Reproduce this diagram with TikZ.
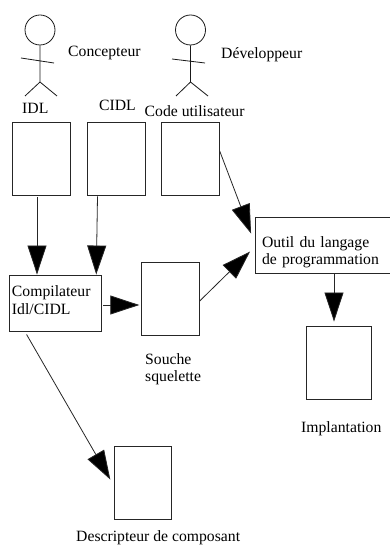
\documentclass[tikz,border=0pt]{standalone}
\usepackage{fontspec}
\setmainfont{Liberation Serif}
\usetikzlibrary{arrows.meta}
\tikzset{
  doc/.style={draw=black!85,line width=0.9pt,fill=white,minimum width=57.5pt,minimum height=73pt,inner sep=0pt},
  tbox/.style={draw=black!85,line width=0.9pt,fill=white,align=left,anchor=center,inner sep=0pt,font=\fontsize{15.7}{17.2}\selectfont},
  lbl/.style={anchor=base west,inner sep=0pt,font=\fontsize{15.7}{17}\selectfont,align=left},
  arr/.style={draw=black!85,line width=0.8pt,-{Triangle[length=29pt,width=19pt,fill=black]}},
  stick/.style={draw=black!90,line width=0.8pt}
}
\begin{document}
\begin{tikzpicture}[x=1pt,y=-1pt]
\useasboundingbox (0,0) rectangle (390,545);
% actors
\node[stick,circle,minimum size=30pt,inner sep=0pt] (h1) at (40,30) {};
\coordinate (hip1) at (40,82);
\coordinate (al1) at (21,58); \coordinate (ar1) at (54,63);
\coordinate (ll1) at (25,96); \coordinate (lr1) at (57,96);
\draw[stick] (h1.south) -- (hip1) (al1) -- (ar1) (ll1) -- (hip1) -- (lr1);
\node[stick,circle,minimum size=30pt,inner sep=0pt] (h2) at (190.5,30) {};
\coordinate (hip2) at (190.5,82);
\coordinate (al2) at (172,59); \coordinate (ar2) at (205,63);
\coordinate (ll2) at (176,96); \coordinate (lr2) at (208,96);
\draw[stick] (h2.south) -- (hip2) (al2) -- (ar2) (ll2) -- (hip2) -- (lr2);
% labels
\node[lbl] (lc) at (68,57) {Concepteur};
\node[lbl] (ld) at (221,59) {Développeur};
\node[lbl] (li) at (22,113.5) {IDL};
\node[lbl] (lci) at (99,111) {CIDL};
\node[lbl] (lu) at (144.5,117) {Code utilisateur};
\node[lbl] (ls) at (145,381) {Souche\\squelette};
\node[lbl] (lim) at (301,432) {Implantation};
\node[lbl] (lde) at (76,541) {Descripteur de composant};
% boxes
\node[doc] (idl) at (41.5,158.5) {};
\node[doc] (cidl) at (116.5,158.5) {};
\node[doc] (code) at (190.5,158.5) {};
\node[doc] (souche) at (170.5,298.5) {};
\node[doc,minimum width=65pt] (impl) at (338.5,362.5) {};
\node[doc] (desc) at (143,482.5) {};
\node[tbox,minimum width=91.5pt,minimum height=56pt,text width=86.5pt] (comp) at (55.25,303) {Compilateur\\Idl/CIDL\rule[-6pt]{0pt}{6pt}};
\node[tbox,minimum width=136pt,minimum height=56pt,text width=123pt] (outil) at (323.5,245) {\rule{0pt}{25pt}Outil du langage\\de programmation};
% connectors
\draw[arr] ([shift={(-4.5,2)}]idl.south) -- ([shift={(-18.25,0)}]comp.north);
\draw[arr] ([shift={(-19,1)}]cidl.south) -- ([shift={(41,0)}]comp.north);
\draw[arr] (code.east |- 0,151) -- ([shift={(-4,17)}]outil.north west);
\draw[arr] ([shift={(0,2.5)}]souche.east) -- ([shift={(-5,35)}]outil.north west);
\draw[arr] ([shift={(2,2)}]comp.east) -- ([shift={(-2,6.5)}]souche.west);
\draw[arr] (334,273) -- ([shift={(-4.5,-4)}]impl.north);
\draw[arr] ([shift={(17.5,3)}]comp.south west) -- ([shift={(-3.5,34)}]desc.north west);
\end{tikzpicture}
\end{document}
